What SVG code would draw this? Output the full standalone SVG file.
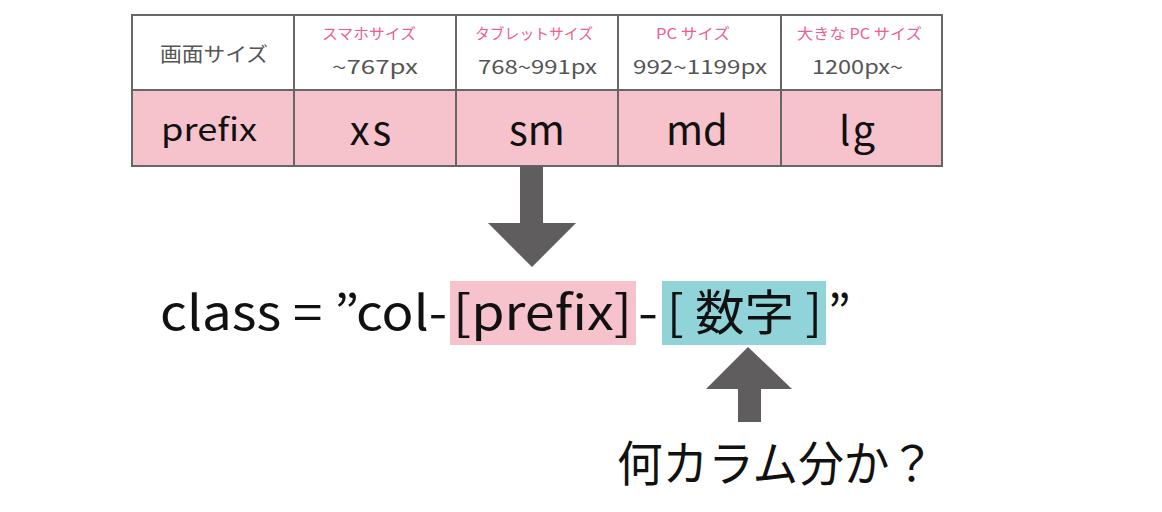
<svg xmlns="http://www.w3.org/2000/svg" width="1162" height="512" viewBox="0 0 1162 512">
<style>
.t{font-family:"Noto Sans CJK JP","Noto Sans",sans-serif}
.hd{font-size:20px;fill:#555}
.pk{font-size:15px;fill:#ee5f8c}
.px{font-size:19px;fill:#555}
.pf{font-size:32px;fill:#111}
.big{font-size:40px;fill:#111;text-anchor:middle}
.cl{font-size:48px;fill:#111}
.cell{stroke:#666;stroke-width:2}
.arr{fill:#5f5d5e}
</style>
<rect width="1162" height="512" fill="#fff"/>
<g id="table">
<rect class="cell" x="132" y="15" width="810" height="75" fill="#fff"/>
<rect class="cell" x="132" y="90" width="810" height="76" fill="#f6c2cc"/>
<path class="cell" d="M294 15V166M456 15V166M618 15V166M781 15V166" fill="none"/>
</g>
<g id="h0"><text class="t hd" x="160" y="62" textLength="108" lengthAdjust="spacingAndGlyphs">画面サイズ</text></g>
<g id="h1"><text class="t pk" x="322" y="39" textLength="94" lengthAdjust="spacingAndGlyphs">スマホサイズ</text><text class="t px" x="332" y="74" textLength="86" lengthAdjust="spacingAndGlyphs">~767px</text></g>
<g id="h2"><text class="t pk" x="475" y="39" textLength="118" lengthAdjust="spacingAndGlyphs">タブレットサイズ</text><text class="t px" x="478" y="74" textLength="119" lengthAdjust="spacingAndGlyphs">768~991px</text></g>
<g id="h3"><text class="t pk" x="656" y="39" textLength="74" lengthAdjust="spacingAndGlyphs">PC サイズ</text><text class="t px" x="633" y="74" textLength="134" lengthAdjust="spacingAndGlyphs">992~1199px</text></g>
<g id="h4"><text class="t pk" x="797" y="39" textLength="125" lengthAdjust="spacingAndGlyphs">大きな PC サイズ</text><text class="t px" x="812" y="74" textLength="91" lengthAdjust="spacingAndGlyphs">1200px~</text></g>
<g id="r0"><text class="t pf" x="161" y="141" textLength="96" lengthAdjust="spacingAndGlyphs">prefix</text></g>
<g id="r1"><text class="t big" x="372" y="145" letter-spacing="3">xs</text></g>
<g id="r2"><text class="t big" x="537" y="145">sm</text></g>
<g id="r3"><text class="t big" x="697" y="145">md</text></g>
<g id="r4"><text class="t big" x="858" y="145" letter-spacing="2">lg</text></g>
<g id="connectors">
<polygon class="arr" points="520,166 543,166 543,223 576,223 532,267 488,223 520,223"/>
<polygon class="arr" points="748,347 792,389 761,389 761,422 738,422 738,389 706,389"/>
</g>
<g id="formula">
<rect x="450" y="281" width="186" height="64" fill="#f6c2cc"/>
<rect x="662" y="281" width="164" height="64" fill="#90d4da"/>
<text class="t cl" x="160" y="330" textLength="287" lengthAdjust="spacingAndGlyphs">class = ”col-</text>
<text class="t cl" x="453" y="330" textLength="179" lengthAdjust="spacingAndGlyphs">[prefix]</text>
<text class="t cl" x="638" y="330" textLength="20" lengthAdjust="spacingAndGlyphs">-</text>
<text class="t cl" x="667" y="330" textLength="155" lengthAdjust="spacingAndGlyphs">[ 数字 ]</text>
<text class="t cl" x="828" y="330">”</text>
</g>
<g id="note"><text class="t cl" x="617" y="481" textLength="318" lengthAdjust="spacingAndGlyphs">何カラム分か？</text></g>
</svg>
